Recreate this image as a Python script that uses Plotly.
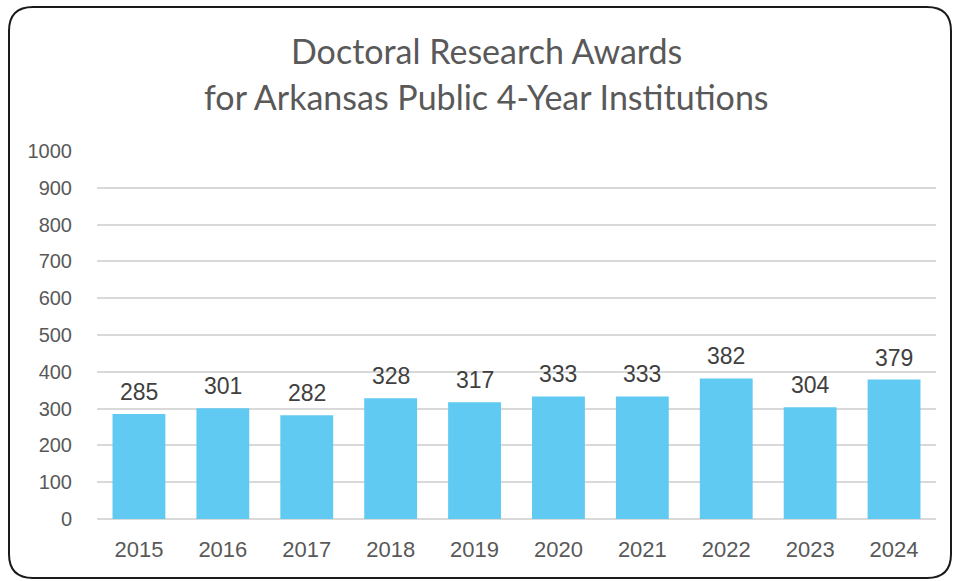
import plotly.graph_objects as go

years = ["2015", "2016", "2017", "2018", "2019", "2020", "2021", "2022", "2023", "2024"]
awards = [285, 301, 282, 328, 317, 333, 333, 382, 304, 379]
y_ticks = [0, 100, 200, 300, 400, 500, 600, 700, 800, 900, 1000]
title_lines = ["Doctoral Research Awards", "for Arkansas Public 4-Year Institutions"]

W, H = 956, 581
ML, MR, MT, MB = 97, 20, 151, 62
PW, PH = W - ML - MR, H - MT - MB

def px(x):
    return (x - ML) / PW

def py(y):
    return (H - MB - y) / PH

fig = go.Figure()
fig.add_trace(go.Bar(
    x=years, y=awards,
    marker=dict(color="#61CAF2", line=dict(width=0)),
    cliponaxis=False,
    hoverinfo="x+y",
))

# data labels (x given as category index on the category axis)
for i, v in enumerate(awards):
    fig.add_annotation(
        x=i, y=v, xref="x", yref="y", text=str(v), showarrow=False,
        yanchor="middle", yshift=22,
        font=dict(family="Liberation Sans, Arial, sans-serif", size=23, color="#404040"),
    )

# title lines
for line, ypix in zip(title_lines, [50, 97]):
    fig.add_annotation(
        x=px(486), y=py(ypix), xref="paper", yref="paper",
        text=line, showarrow=False, xanchor="center", yanchor="middle",
        font=dict(family="Lato, sans-serif", size=34, color="#595959"),
    )

# rounded border
x0, x1, y0, y1, r = 9, 951, 7, 578, 24
path = (f"M {px(x0 + r)} {py(y0)} L {px(x1 - r)} {py(y0)} "
        f"Q {px(x1)} {py(y0)} {px(x1)} {py(y0 + r)} "
        f"L {px(x1)} {py(y1 - r)} Q {px(x1)} {py(y1)} {px(x1 - r)} {py(y1)} "
        f"L {px(x0 + r)} {py(y1)} Q {px(x0)} {py(y1)} {px(x0)} {py(y1 - r)} "
        f"L {px(x0)} {py(y0 + r)} Q {px(x0)} {py(y0)} {px(x0 + r)} {py(y0)} Z")
fig.add_shape(type="path", path=path, xref="paper", yref="paper",
              line=dict(color="#1a1a1a", width=2), layer="above")

fig.update_layout(
    width=W, height=H,
    margin=dict(l=ML, r=MR, t=MT, b=MB),
    paper_bgcolor="white", plot_bgcolor="white",
    bargap=0.37,
    showlegend=False,
    xaxis=dict(
        type="category",
        showgrid=False, showline=False, zeroline=False,
        ticks="outside", ticklen=11, tickcolor="rgba(0,0,0,0)",
        tickfont=dict(family="Liberation Sans, Arial, sans-serif", size=22, color="#595959"),
    ),
    yaxis=dict(
        range=[0, 1000], tickvals=y_ticks,
        showgrid=True, gridcolor="#d9d9d9", gridwidth=1.5,
        zeroline=True, zerolinecolor="#d9d9d9", zerolinewidth=1.5,
        showline=False,
        ticks="outside", ticklen=20, tickcolor="rgba(0,0,0,0)",
        tickfont=dict(family="Liberation Sans, Arial, sans-serif", size=20, color="#595959"),
    ),
)

fig.write_html("out.html", config={"displayModeBar": False},
               post_script="document.body.style.margin='0';document.body.style.overflow='hidden';")
